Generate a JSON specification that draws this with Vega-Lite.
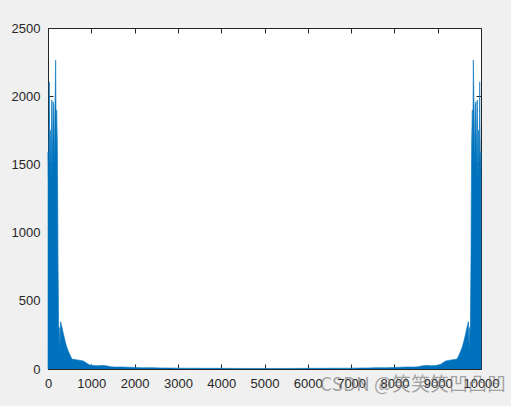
{
  "$schema": "https://vega.github.io/schema/vega-lite/v6.json",
  "width": 433,
  "height": 341,
  "autosize": {"type": "none"},
  "padding": {"left": 48, "top": 28, "right": 30, "bottom": 37},
  "background": "#f0f0f0",
  "config": {
    "view": {"fill": "white", "stroke": "#262626", "strokeWidth": 1},
    "axis": {"labelFont": "Liberation Sans", "labelFontSize": 13, "labelColor": "#262626", "tickColor": "#262626", "grid": false, "domain": false, "title": null, "tickSize": -5, "format": "d"}
  },
  "title": {"text": "CSDN @笑笑笑凹凸凹", "orient": "bottom", "anchor": "end", "font": "Noto Sans CJK SC", "fontSize": 19, "fontWeight": "normal", "color": "rgba(110,110,110,0.6)", "offset": -14, "dx": 7},
  "data": {"values": [
    {"f": 0, "m": 0}, {"f": 2, "m": 1590}, {"f": 10, "m": 1400}, {"f": 20, "m": 1700}, {"f": 30, "m": 2106}, {"f": 40, "m": 1500}, {"f": 55, "m": 1750}, {"f": 70, "m": 1400}, {"f": 85, "m": 1972}, {"f": 100, "m": 1450}, {"f": 115, "m": 1960}, {"f": 131, "m": 1935}, {"f": 145, "m": 1500}, {"f": 160, "m": 1900}, {"f": 177, "m": 2265}, {"f": 190, "m": 1600}, {"f": 200, "m": 1899}, {"f": 215, "m": 1680}, {"f": 225, "m": 1200}, {"f": 231, "m": 799}, {"f": 240, "m": 500}, {"f": 246, "m": 308}, {"f": 262, "m": 300}, {"f": 275, "m": 150}, {"f": 285, "m": 300}, {"f": 292, "m": 347}, {"f": 320, "m": 310}, {"f": 354, "m": 261}, {"f": 390, "m": 210}, {"f": 431, "m": 163}, {"f": 470, "m": 130}, {"f": 508, "m": 103}, {"f": 540, "m": 80}, {"f": 570, "m": 71}, {"f": 650, "m": 68}, {"f": 750, "m": 63}, {"f": 816, "m": 58}, {"f": 880, "m": 45}, {"f": 930, "m": 35}, {"f": 970, "m": 29}, {"f": 1050, "m": 25}, {"f": 1150, "m": 24}, {"f": 1250, "m": 26}, {"f": 1350, "m": 23}, {"f": 1450, "m": 16}, {"f": 1550, "m": 14}, {"f": 1700, "m": 15}, {"f": 1850, "m": 13}, {"f": 2000, "m": 11}, {"f": 2200, "m": 9}, {"f": 2400, "m": 10}, {"f": 2600, "m": 8}, {"f": 2800, "m": 7}, {"f": 3000, "m": 6}, {"f": 3300, "m": 6}, {"f": 3600, "m": 5}, {"f": 4000, "m": 5}, {"f": 4500, "m": 4}, {"f": 5000, "m": 4},
    {"f": 5500, "m": 4}, {"f": 6000, "m": 5}, {"f": 6400, "m": 5}, {"f": 6700, "m": 6}, {"f": 7000, "m": 6}, {"f": 7200, "m": 7}, {"f": 7400, "m": 8}, {"f": 7600, "m": 10}, {"f": 7800, "m": 9}, {"f": 8000, "m": 11}, {"f": 8150, "m": 13}, {"f": 8300, "m": 15}, {"f": 8450, "m": 14}, {"f": 8550, "m": 16}, {"f": 8650, "m": 23}, {"f": 8750, "m": 26}, {"f": 8850, "m": 24}, {"f": 8950, "m": 25}, {"f": 9030, "m": 29}, {"f": 9070, "m": 35}, {"f": 9120, "m": 45}, {"f": 9184, "m": 58}, {"f": 9250, "m": 63}, {"f": 9350, "m": 68}, {"f": 9430, "m": 71}, {"f": 9460, "m": 80}, {"f": 9492, "m": 103}, {"f": 9530, "m": 130}, {"f": 9569, "m": 163}, {"f": 9610, "m": 210}, {"f": 9646, "m": 261}, {"f": 9680, "m": 310}, {"f": 9708, "m": 347}, {"f": 9715, "m": 300}, {"f": 9725, "m": 150}, {"f": 9738, "m": 300}, {"f": 9754, "m": 308}, {"f": 9760, "m": 500}, {"f": 9769, "m": 799}, {"f": 9775, "m": 1200}, {"f": 9785, "m": 1680}, {"f": 9800, "m": 1899}, {"f": 9810, "m": 1600}, {"f": 9823, "m": 2265}, {"f": 9840, "m": 1900}, {"f": 9855, "m": 1500}, {"f": 9869, "m": 1935}, {"f": 9885, "m": 1960}, {"f": 9900, "m": 1450}, {"f": 9915, "m": 1972}, {"f": 9930, "m": 1400}, {"f": 9945, "m": 1750}, {"f": 9960, "m": 1500}, {"f": 9970, "m": 2106}, {"f": 9980, "m": 1700}, {"f": 9990, "m": 1400}, {"f": 9998, "m": 1590}, {"f": 10000, "m": 0}
  ]},
  "layer": [
    {
      "mark": {"type": "area", "color": "#0072BD", "opacity": 1, "line": {"color": "#0072BD", "strokeWidth": 0.6}},
      "encoding": {
        "x": {"field": "f", "type": "quantitative", "scale": {"domain": [0, 10000], "nice": false, "zero": false}, "axis": {"orient": "bottom", "values": [0, 1000, 2000, 3000, 4000, 5000, 6000, 7000, 8000, 9000, 10000], "labelPadding": 13, "labelFlush": false}},
        "y": {"field": "m", "type": "quantitative", "scale": {"domain": [0, 2500], "nice": false}, "axis": {"orient": "left", "values": [0, 500, 1000, 1500, 2000, 2500], "labelPadding": 13}}
      }
    },
    {
      "mark": {"type": "point", "opacity": 0},
      "encoding": {
        "x": {"field": "f", "type": "quantitative", "axis": {"orient": "top", "values": [0, 1000, 2000, 3000, 4000, 5000, 6000, 7000, 8000, 9000, 10000], "labels": false}},
        "y": {"field": "m", "type": "quantitative", "axis": {"orient": "right", "values": [0, 500, 1000, 1500, 2000, 2500], "labels": false}}
      }
    }
  ],
  "resolve": {"axis": {"x": "independent", "y": "independent"}}
}
